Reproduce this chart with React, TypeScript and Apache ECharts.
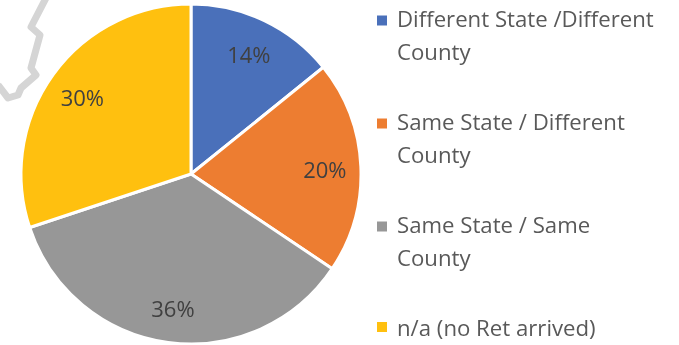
import React, { useEffect, useRef } from "react";
import * as echarts from "echarts";

const categories = [
  "Different State /Different\nCounty",
  "Same State / Different\nCounty",
  "Same State / Same\nCounty",
  "n/a (no Ret arrived)",
];
const values = [14.2, 20.2, 35.5, 30.1];
const colors = ["#4A70BA", "#ED7D31", "#979797", "#FFC00F"];
const legendTops = [1.5, 104.5, 207.5, 315];

const twoLineIcon = "path://M0 0H12V12H0ZM16 40L16 40";
const oneLineIcon = "path://M0 0H12V12H0ZM16 12L16 12";

export default function App() {
  const ref = useRef<HTMLDivElement>(null);
  useEffect(() => {
    const chart = echarts.init(ref.current!, undefined, { renderer: "svg" });
    const total = values.reduce((a, b) => a + b, 0);
    const shift = 46;
    let cum = 0;
    const mids = values.map((v) => {
      const m = ((cum + v / 2) / total) * 2 * Math.PI;
      cum += v;
      return m;
    });
    chart.setOption({
      animation: false,
      color: colors,
      legend: categories.map((c, i) => {
        const two = c.includes("\n");
        return {
          show: true,
          orient: "vertical",
          left: 375,
          top: legendTops[i],
          padding: 0,
          icon: two ? twoLineIcon : oneLineIcon,
          itemWidth: 16,
          itemHeight: two ? 40 : 12,
          itemGap: 0,
          selectedMode: false,
          data: [c],
          textStyle: {
            color: "#595959",
            fontFamily: "Open Sans",
            fontSize: 22.2,
            lineHeight: two ? 33 : 24,
          },
        };
      }),
      graphic: [
        {
          type: "polyline",
          silent: true,
          shape: {
            points: [
              [46, -2],
              [31, 27],
              [40, 35],
              [31, 68],
              [36, 75],
              [21, 88],
              [18, 95],
              [8, 98],
              [-2, 85],
            ],
          },
          style: { stroke: "#d5d5d5", lineWidth: 7, fill: "none", lineJoin: "round" },
        },
      ],
      series: [
        {
          type: "pie",
          center: [191, 174],
          radius: [0, 170],
          startAngle: 90,
          clockwise: true,
          itemStyle: { borderColor: "#fff", borderWidth: 3 },
          emphasis: { disabled: true },
          label: {
            show: true,
            position: "inside",
            formatter: (p: any) => `${Math.round(p.value)}%`,
            color: "#404040",
            fontFamily: "Open Sans",
            fontSize: 22,
          },
          labelLine: { show: false },
          labelLayout: (p: any) => ({
            dx: shift * Math.sin(mids[p.dataIndex]),
            dy: 1 - shift * Math.cos(mids[p.dataIndex]),
          }),
          data: categories.map((c, i) => ({ name: c, value: values[i] })),
        },
      ],
    });
    return () => chart.dispose();
  }, []);
  return (
    <div
      ref={ref}
      style={{ position: "fixed", left: 0, top: 0, width: 679, height: 345 }}
    />
  );
}
